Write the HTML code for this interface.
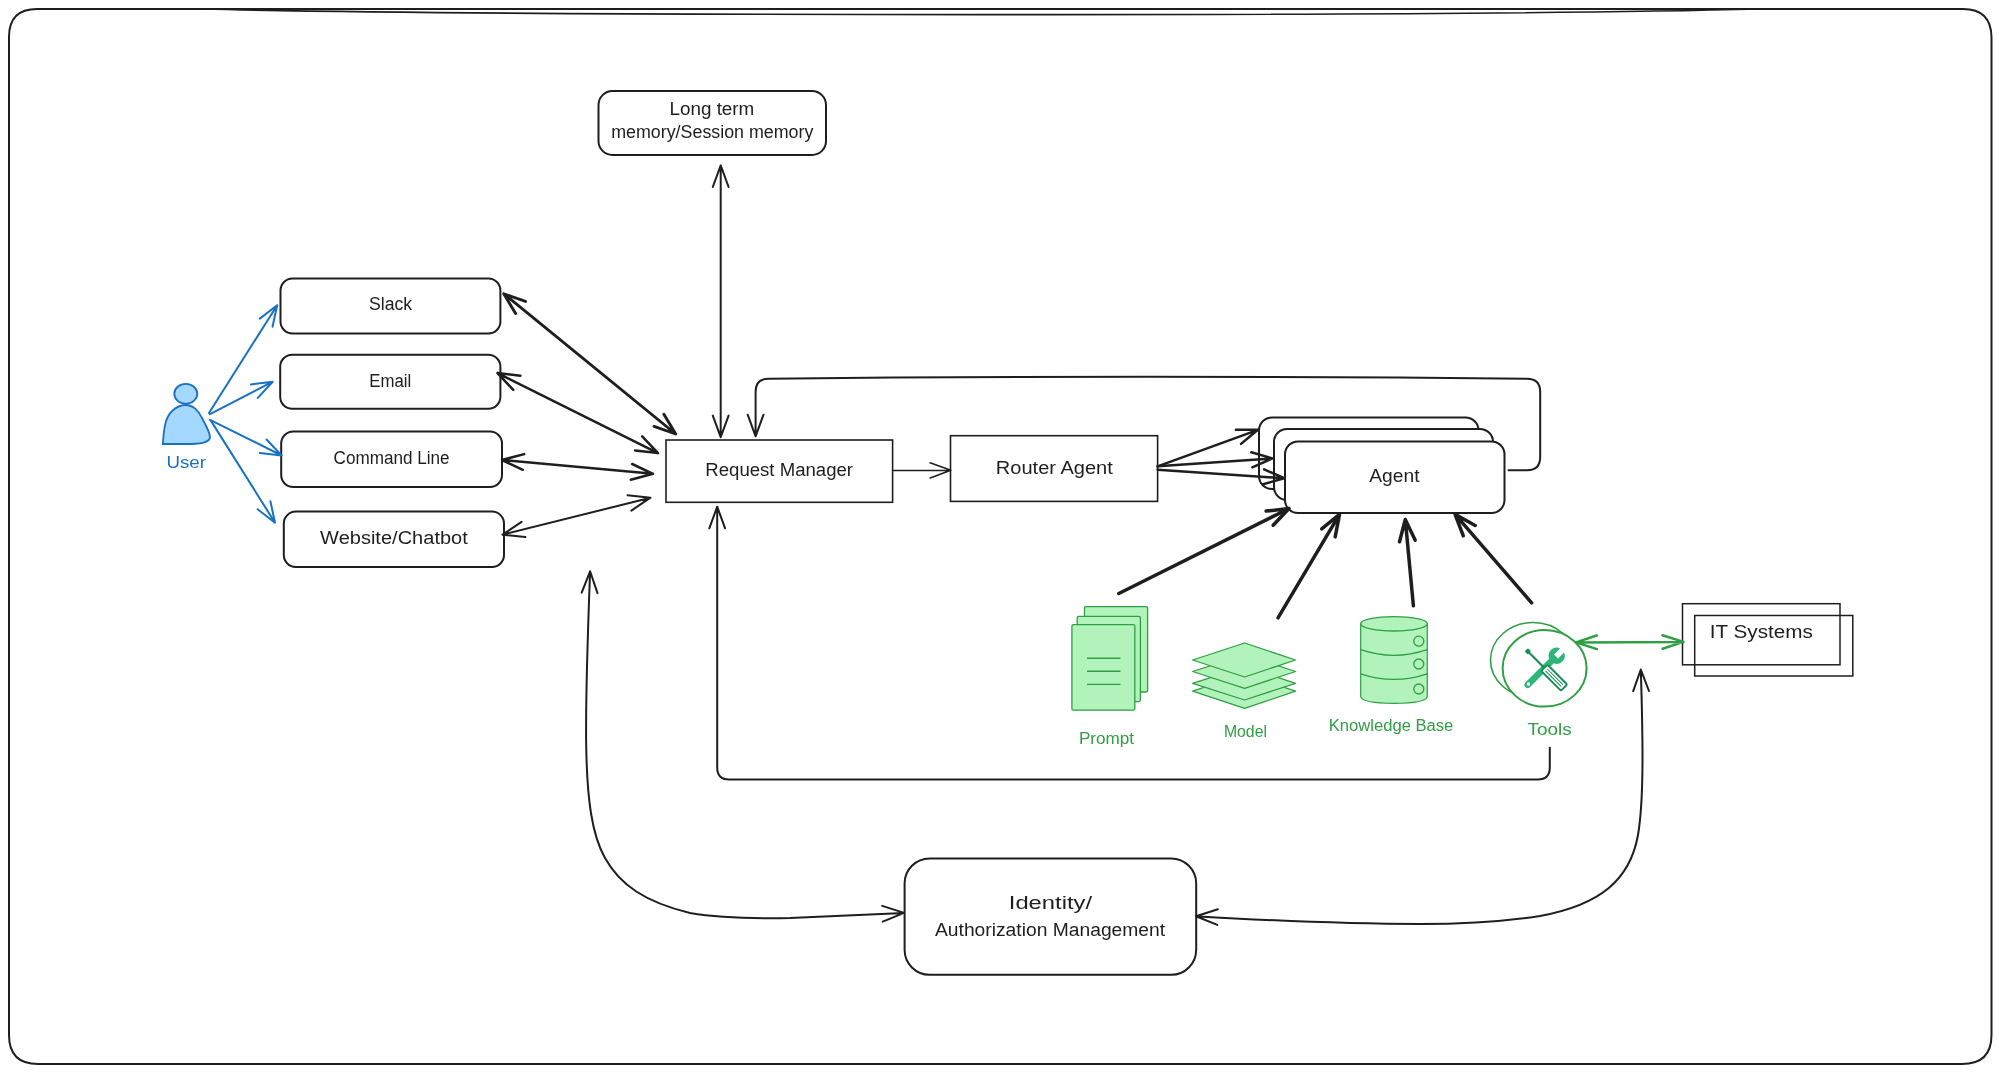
<!DOCTYPE html>
<html><head><meta charset="utf-8"><title>Diagram</title>
<style>html,body{margin:0;padding:0;background:#fff;} body{width:1999px;height:1073px;overflow:hidden;font-family:"Liberation Sans",sans-serif;} svg{display:block;will-change:transform;}</style>
</head><body>
<svg width="1999" height="1073" viewBox="0 0 1999 1073" font-family="&quot;Liberation Sans&quot;, sans-serif">
<path d="M37,9 L1963,9 Q1991,9 1991.5,37 L1991.5,1035 Q1991.5,1064 1962,1064 L38,1064 Q9,1064 9,1035 L9,37 Q9,9 37,9 Z" stroke="#1e1e1e" stroke-width="2" fill="none"/>
<path d="M200,9 C500,16 1450,17 1760,9" stroke="#1e1e1e" stroke-width="1.6" fill="none"/>
<rect x="598.5" y="91" width="227.5" height="64.0" rx="14" ry="14" stroke="#1e1e1e" stroke-width="2" fill="none"/>
<text x="669.5" y="115.4" font-size="18" fill="#1e1e1e" textLength="84.8" lengthAdjust="spacingAndGlyphs">Long term</text>
<text x="611.2" y="137.9" font-size="18" fill="#1e1e1e" textLength="202.2" lengthAdjust="spacingAndGlyphs">memory/Session memory</text>
<rect x="280.5" y="278.5" width="219.9" height="55.0" rx="12" ry="12" stroke="#1e1e1e" stroke-width="2" fill="none"/>
<text x="369" y="310.3" font-size="18" fill="#1e1e1e" textLength="43.2" lengthAdjust="spacingAndGlyphs">Slack</text>
<rect x="280.2" y="354.8" width="220.2" height="54.0" rx="12" ry="12" stroke="#1e1e1e" stroke-width="2" fill="none"/>
<text x="369.3" y="386.7" font-size="18" fill="#1e1e1e" textLength="41.9" lengthAdjust="spacingAndGlyphs">Email</text>
<rect x="281.2" y="431.5" width="220.8" height="55.5" rx="12" ry="12" stroke="#1e1e1e" stroke-width="2" fill="none"/>
<text x="333.6" y="464" font-size="18" fill="#1e1e1e" textLength="116.0" lengthAdjust="spacingAndGlyphs">Command Line</text>
<rect x="283.8" y="511.6" width="220.2" height="55.4" rx="12" ry="12" stroke="#1e1e1e" stroke-width="2" fill="none"/>
<text x="320.1" y="544" font-size="18" fill="#1e1e1e" textLength="147.7" lengthAdjust="spacingAndGlyphs">Website/Chatbot</text>
<rect x="666" y="440" width="226.6" height="62.3" rx="0" ry="0" stroke="#1e1e1e" stroke-width="1.6" fill="none"/>
<text x="705.3" y="476.3" font-size="18" fill="#1e1e1e" textLength="147.7" lengthAdjust="spacingAndGlyphs">Request Manager</text>
<rect x="950.5" y="435.7" width="207.1" height="65.7" rx="0" ry="0" stroke="#1e1e1e" stroke-width="1.6" fill="none"/>
<text x="995.8" y="473.9" font-size="18" fill="#1e1e1e" textLength="117.0" lengthAdjust="spacingAndGlyphs">Router Agent</text>
<rect x="1259" y="417.5" width="219.5" height="71.5" rx="13" ry="13" stroke="#1e1e1e" stroke-width="2" fill="#fff"/>
<rect x="1274" y="429" width="219.0" height="71.0" rx="13" ry="13" stroke="#1e1e1e" stroke-width="2" fill="#fff"/>
<rect x="1285" y="441.5" width="219.5" height="71.5" rx="13" ry="13" stroke="#1e1e1e" stroke-width="2" fill="#fff"/>
<text x="1369.3" y="482.4" font-size="19" fill="#1e1e1e" textLength="50.2" lengthAdjust="spacingAndGlyphs">Agent</text>
<rect x="1682.5" y="603.7" width="157.5" height="61.1" rx="0" ry="0" stroke="#1e1e1e" stroke-width="1.5" fill="none"/>
<rect x="1694.7" y="615.5" width="158.1" height="60.5" rx="0" ry="0" stroke="#1e1e1e" stroke-width="1.5" fill="none"/>
<text x="1709.8" y="638.1" font-size="18" fill="#1e1e1e" textLength="103.0" lengthAdjust="spacingAndGlyphs">IT Systems</text>
<rect x="904.6" y="858.5" width="291.6" height="116.3" rx="25" ry="25" stroke="#1e1e1e" stroke-width="2" fill="none"/>
<text x="1008.8" y="908.5" font-size="18" fill="#1e1e1e" textLength="83.2" lengthAdjust="spacingAndGlyphs">Identity/</text>
<text x="935" y="936.3" font-size="18" fill="#1e1e1e" textLength="230.1" lengthAdjust="spacingAndGlyphs">Authorization Management</text>
<ellipse cx="185.8" cy="393.8" rx="11.5" ry="10" fill="#a5d8ff" stroke="#1971c2" stroke-width="1.8"/>
<path d="M162.8,444 C164,428 165,418 172,411 C177,406.5 181,405 185.5,405 C193,405 199,411 202,418 C206,426 210,432 210,437.5 C209,443 200,444 185,444 Z" fill="#a5d8ff" stroke="#1971c2" stroke-width="1.8"/>
<text x="166.4" y="468" font-size="16" fill="#1971c2" textLength="39.5" lengthAdjust="spacingAndGlyphs">User</text>
<path d="M209.0,413.0 L277.2,305.2 M272.5,326.7 L277.2,305.2 L259.8,318.6" stroke="#1971c2" stroke-width="2" fill="none" stroke-linecap="round" stroke-linejoin="round"/>
<path d="M210.0,414.2 L272.7,381.7 M257.8,397.9 L272.7,381.7 L250.9,384.5" stroke="#1971c2" stroke-width="2" fill="none" stroke-linecap="round" stroke-linejoin="round"/>
<path d="M210.0,419.8 L281.7,455.5 M259.8,453.0 L281.7,455.5 L266.5,439.5" stroke="#1971c2" stroke-width="2" fill="none" stroke-linecap="round" stroke-linejoin="round"/>
<path d="M211.0,420.9 L275.0,522.7 M257.6,509.2 L275.0,522.7 L270.4,501.2" stroke="#1971c2" stroke-width="2" fill="none" stroke-linecap="round" stroke-linejoin="round"/>
<path d="M503.8,293.8 L675.7,434.0 M654.0,426.4 L675.7,434.0 L663.9,414.2 M525.5,301.4 L503.8,293.8 L515.6,313.6" stroke="#1e1e1e" stroke-width="2.9" fill="none" stroke-linecap="round" stroke-linejoin="round"/>
<path d="M497.5,373.1 L658.0,453.1 M635.1,450.5 L658.0,453.1 L642.2,436.4 M520.4,375.7 L497.5,373.1 L513.3,389.8" stroke="#1e1e1e" stroke-width="2.5" fill="none" stroke-linecap="round" stroke-linejoin="round"/>
<path d="M502.0,460.0 L653.0,473.8 M630.8,479.7 L653.0,473.8 L632.2,464.0 M524.2,454.1 L502.0,460.0 L522.8,469.8" stroke="#1e1e1e" stroke-width="2.5" fill="none" stroke-linecap="round" stroke-linejoin="round"/>
<path d="M502.5,534.7 L650.5,497.7 M631.4,510.6 L650.5,497.7 L627.6,495.3 M521.6,521.8 L502.5,534.7 L525.4,537.1" stroke="#1e1e1e" stroke-width="2" fill="none" stroke-linecap="round" stroke-linejoin="round"/>
<path d="M720.7,165.4 L720.7,437.2 M712.8,415.6 L720.7,437.2 L728.6,415.6 M728.6,187.0 L720.7,165.4 L712.8,187.0" stroke="#1e1e1e" stroke-width="2" fill="none" stroke-linecap="round" stroke-linejoin="round"/>
<path d="M892.6,470.5 L950.8,470.3 M930.2,477.9 L950.8,470.3 L930.1,462.8" stroke="#1e1e1e" stroke-width="1.6" fill="none" stroke-linecap="round" stroke-linejoin="round"/>
<path d="M1157.6,466.3 L1257.9,429.8 M1241.0,443.9 L1257.9,429.8 L1235.9,429.8" stroke="#1e1e1e" stroke-width="2.5" fill="none" stroke-linecap="round" stroke-linejoin="round"/>
<path d="M1157.6,466.3 L1272.4,458.4 M1252.3,467.3 L1272.4,458.4 L1251.3,452.3" stroke="#1e1e1e" stroke-width="2.5" fill="none" stroke-linecap="round" stroke-linejoin="round"/>
<path d="M1157.6,469.8 L1284.2,478.2 M1263.1,484.3 L1284.2,478.2 L1264.1,469.3" stroke="#1e1e1e" stroke-width="2.5" fill="none" stroke-linecap="round" stroke-linejoin="round"/>
<path d="M1508.5,470.2 L1527,470.2 Q1540.2,470.2 1540.2,457 L1540.2,392 Q1540.2,378.7 1527,378.7 Q1148,375 768.6,378.7 Q755.6,378.7 755.6,391.7 L755.6,436.3 M747.7,414.7 L755.6,436.3 L763.5,414.7" stroke="#1e1e1e" stroke-width="2" fill="none" stroke-linecap="round" stroke-linejoin="round"/>
<path d="M1549.8,747.8 L1549.8,767.5 Q1549.8,779.5 1537.8,779.5 L729,779.5 Q717.2,779.5 717.2,767.5 L717.2,506.7 M725.1,528.3 L717.2,506.7 L709.3,528.3" stroke="#1e1e1e" stroke-width="2" fill="none" stroke-linecap="round" stroke-linejoin="round"/>
<path d="M590.1,571.3 C587.5,640 585.5,700 586.2,745 C587,800 592,835 605,858 C620,885 645,902 690,913 C720,918 760,918.6 790,918 L904.1,912.9 M882.8,921.6 L904.1,912.9 L882.2,905.9 M597.5,593.1 L590.1,571.3 L581.7,592.7" stroke="#1e1e1e" stroke-width="2" fill="none" stroke-linecap="round" stroke-linejoin="round"/>
<path d="M1196,916.2 C1260,920 1340,924 1420,924 C1460,924 1500,922 1540,916 C1600,905 1630,880 1638,835 C1644,800 1643,740 1640.8,669.5 M1649.0,691.0 L1640.8,669.5 L1633.2,691.2 M1217.9,909.2 L1196.0,916.2 L1217.3,924.9" stroke="#1e1e1e" stroke-width="2" fill="none" stroke-linecap="round" stroke-linejoin="round"/>
<path d="M1118.8,593.5 L1289.0,508.5 M1273.2,525.2 L1289.0,508.5 L1266.1,511.1" stroke="#1e1e1e" stroke-width="3.5" fill="none" stroke-linecap="round" stroke-linejoin="round"/>
<path d="M1278.0,617.8 L1339.5,514.3 M1335.2,536.9 L1339.5,514.3 L1321.7,528.9" stroke="#1e1e1e" stroke-width="3.5" fill="none" stroke-linecap="round" stroke-linejoin="round"/>
<path d="M1413.4,605.8 L1405.3,519.5 M1415.2,540.3 L1405.3,519.5 L1399.5,541.8" stroke="#1e1e1e" stroke-width="3.5" fill="none" stroke-linecap="round" stroke-linejoin="round"/>
<path d="M1531.6,602.8 L1455.1,514.3 M1475.2,525.5 L1455.1,514.3 L1463.3,535.8" stroke="#1e1e1e" stroke-width="3.5" fill="none" stroke-linecap="round" stroke-linejoin="round"/>
<path d="M1575.9,642.4 L1683.5,641.9 M1662.6,648.8 L1683.5,641.9 L1662.5,635.2 M1596.8,635.5 L1575.9,642.4 L1596.9,649.1" stroke="#2f9e44" stroke-width="2.5" fill="none" stroke-linecap="round" stroke-linejoin="round"/>
<rect x="1084.5" y="606.7" width="63.1" height="85.3" rx="1.5" ry="1.5" stroke="#2f9e44" stroke-width="1.3" fill="#b2f2bb"/>
<rect x="1077.2" y="616.3" width="63.2" height="85.3" rx="1.5" ry="1.5" stroke="#2f9e44" stroke-width="1.3" fill="#b2f2bb"/>
<rect x="1071.9" y="624.7" width="62.9" height="85.5" rx="1.5" ry="1.5" stroke="#2f9e44" stroke-width="1.3" fill="#b2f2bb"/>
<path d="M1087,658.3 L1120.5,658.3" stroke="#2f9e44" stroke-width="1.4"/>
<path d="M1087,671.3 L1120.5,671.3" stroke="#2f9e44" stroke-width="1.4"/>
<path d="M1087,684.4 L1120.5,684.4" stroke="#2f9e44" stroke-width="1.4"/>
<text x="1078.9" y="744.4" font-size="16" fill="#2f9e44" textLength="55.2" lengthAdjust="spacingAndGlyphs">Prompt</text>
<path d="M1192.6,691.2 L1244.6,674.0000000000001 L1295.6,691.2 L1244.6,708.4 Z" fill="#b2f2bb" stroke="#2f9e44" stroke-width="1.3" stroke-linejoin="round"/>
<path d="M1192.6,683.3 L1244.6,666.5999999999999 L1295.6,683.3 L1244.6,700 Z" fill="#b2f2bb" stroke="#2f9e44" stroke-width="1.3" stroke-linejoin="round"/>
<path d="M1192.6,671.5 L1244.6,654.7 L1295.6,671.5 L1244.6,688.3 Z" fill="#b2f2bb" stroke="#2f9e44" stroke-width="1.3" stroke-linejoin="round"/>
<path d="M1192.6,660 L1244.6,643 L1295.6,660 L1244.6,677 Z" fill="#b2f2bb" stroke="#2f9e44" stroke-width="1.3" stroke-linejoin="round"/>
<text x="1223.9" y="737.1" font-size="16" fill="#2f9e44" textLength="43.1" lengthAdjust="spacingAndGlyphs">Model</text>
<path d="M1360.7,623.8 L1360.7,696.6 C1362,702 1380,703.3 1394,703.3 C1408,703.3 1426,702 1427.3,696.6 L1427.3,623.8 Z" fill="#b2f2bb" stroke="#2f9e44" stroke-width="1.2"/>
<ellipse cx="1394" cy="623.8" rx="33.3" ry="7.2" fill="#b2f2bb" stroke="#2f9e44" stroke-width="1.3"/>
<path d="M1360.7,649.6 Q1394,661 1427.3,649.6 M1360.7,673.8 Q1394,685 1427.3,673.8" fill="none" stroke="#2f9e44" stroke-width="1.3"/>
<circle cx="1418.8" cy="641.2" r="5" fill="none" stroke="#2f9e44" stroke-width="1.3"/>
<circle cx="1418.8" cy="664" r="5" fill="none" stroke="#2f9e44" stroke-width="1.3"/>
<circle cx="1418.8" cy="689" r="5" fill="none" stroke="#2f9e44" stroke-width="1.3"/>
<text x="1328.8" y="730.8" font-size="16" fill="#2f9e44" textLength="124.5" lengthAdjust="spacingAndGlyphs">Knowledge Base</text>
<ellipse cx="1533" cy="660" rx="42.5" ry="37.5" fill="none" stroke="#2f9e44" stroke-width="1.6"/>
<ellipse cx="1544.6" cy="668.3" rx="42" ry="38.3" fill="#fff" stroke="#2f9e44" stroke-width="2"/>
<g transform="translate(1544,668.5) rotate(-45)"><path d="M-23,-3.3 L10.6,-3.3 A8 8 0 0 1 25.5,-2.8 L17,-2.8 L17,2.8 L25.5,2.8 A8 8 0 0 1 10.6,3.3 L-23,3.3 A3.3 3.3 0 0 1 -23,-3.3 Z" fill="#2db67a"/><circle cx="-22" cy="0" r="1.7" fill="#fff"/></g>
<g transform="translate(1545,668.5) rotate(45)"><path d="M-23,-1.1 L0,-1.1 L0,1.1 L-23,1.1 Z" fill="#1c8c5a"/><rect x="-26.5" y="-2.4" width="4.5" height="4.8" rx="1.2" fill="#1c8c5a"/><rect x="-1" y="-4.4" width="28" height="8.8" rx="1.5" fill="#fff" stroke="#1c8c5a" stroke-width="2"/><path d="M2,-1.3 L24,-1.3 M2,1.3 L24,1.3" stroke="#1c8c5a" stroke-width="1"/></g>
<text x="1527.5" y="735.4" font-size="16" fill="#2f9e44" textLength="44.2" lengthAdjust="spacingAndGlyphs">Tools</text>
</svg>
</body></html>
